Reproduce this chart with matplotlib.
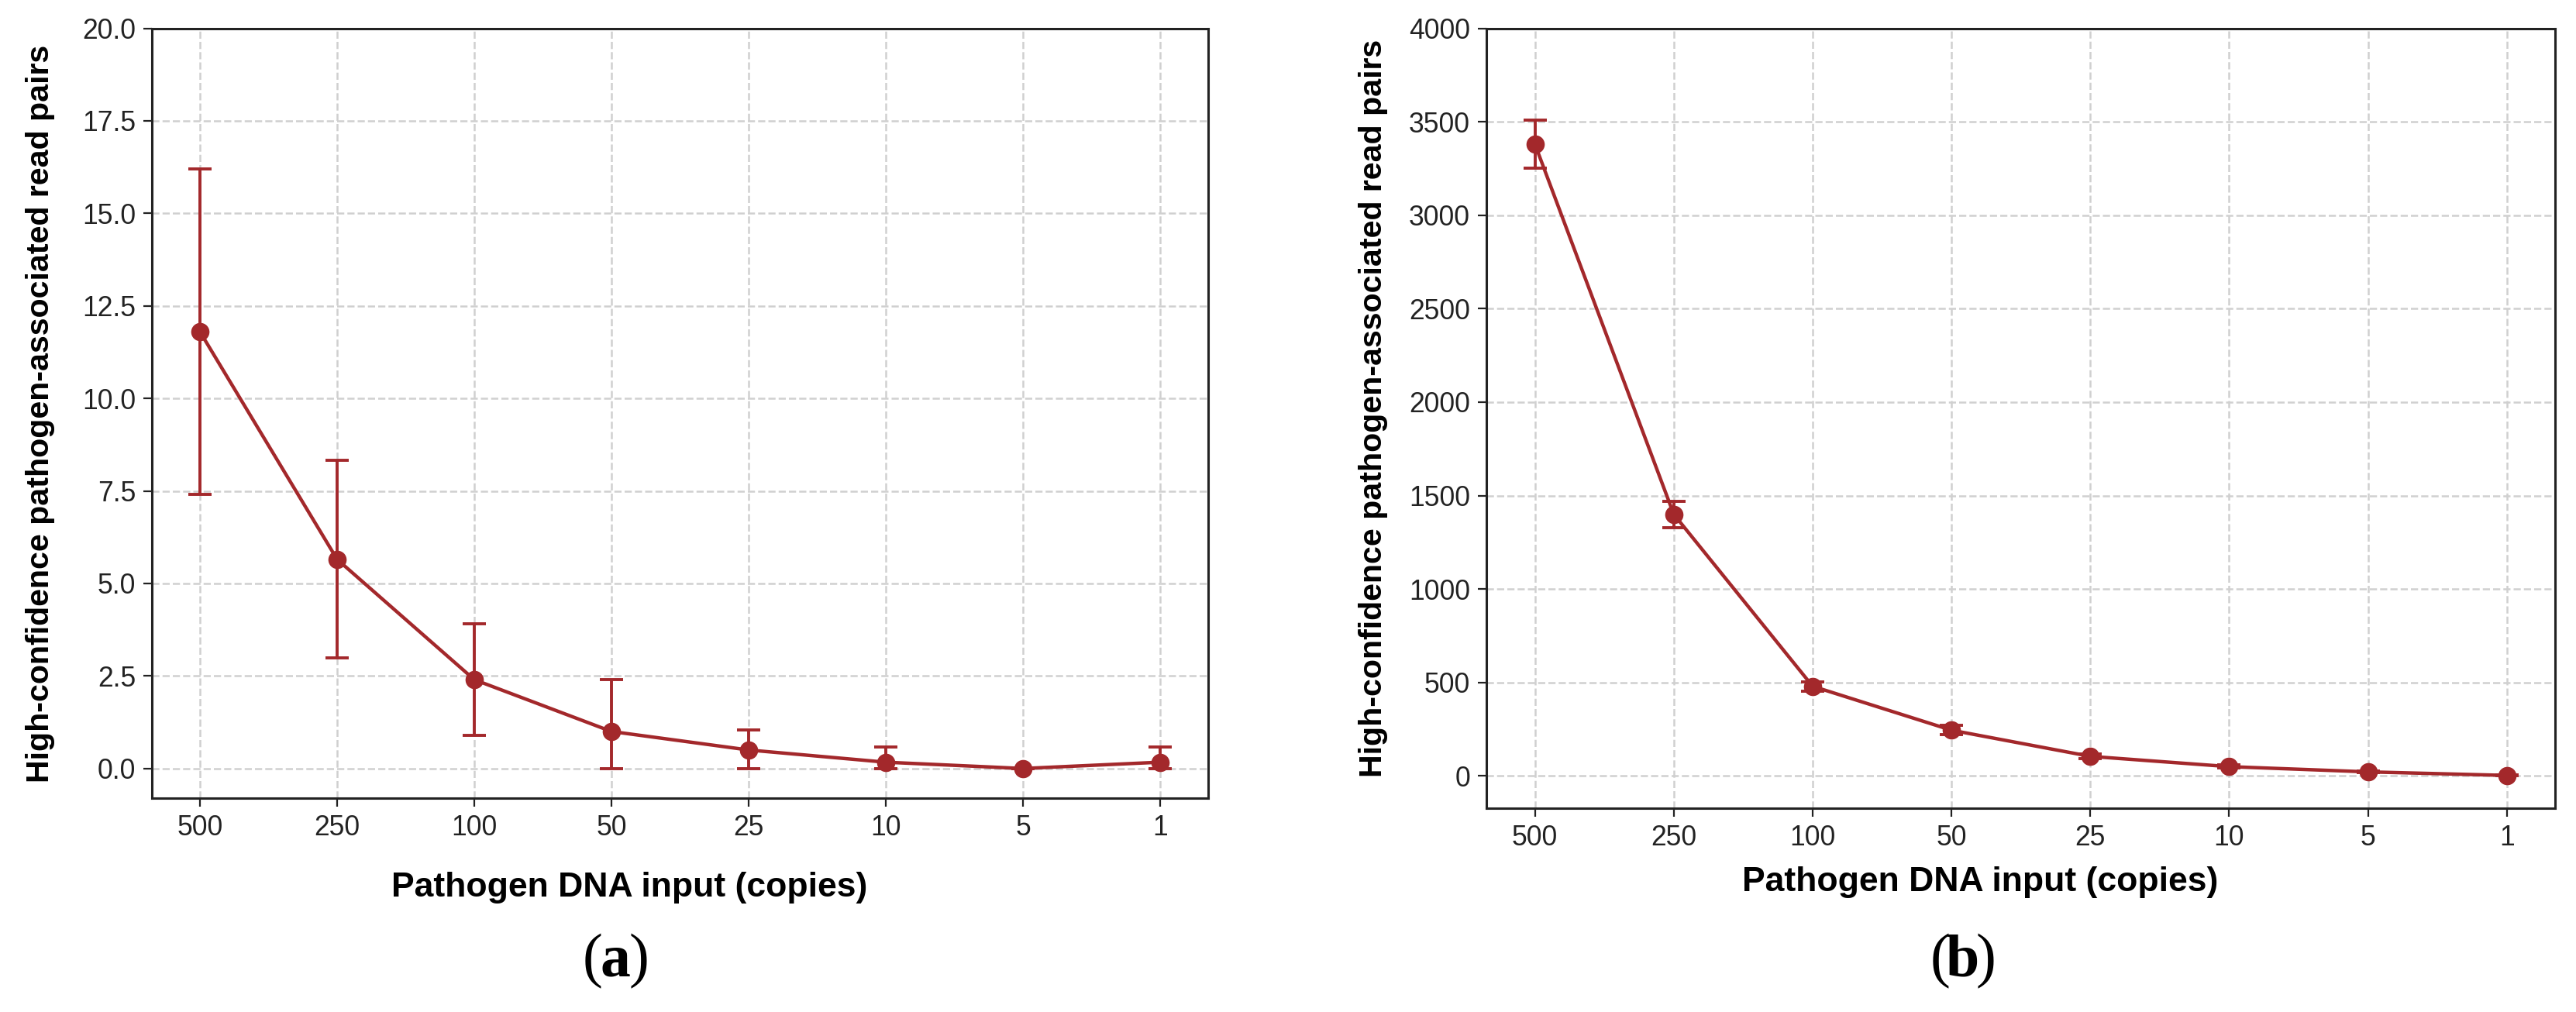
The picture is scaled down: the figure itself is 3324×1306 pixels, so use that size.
import matplotlib.pyplot as plt
import numpy as np

plt.rcParams['font.family'] = ['Liberation Sans', 'DejaVu Sans']

copies = ['500', '250', '100', '50', '25', '10', '5', '1']

# panel (a)
reads_a = [11.8, 5.65, 2.4, 1.0, 0.5, 0.17, 0.0, 0.17]
sd_a = [4.4, 2.67, 1.5, 1.4, 0.55, 0.41, 0.0, 0.41]

# panel (b)
reads_b = [3380, 1400, 480, 245, 105, 50, 22, 3]
sd_b = [130, 70, 25, 25, 12, 8, 4, 2]

red = '#A3282B'

fig = plt.figure(figsize=(16.62, 6.53), dpi=200)
ax1 = fig.add_axes([0.059, 0.211, 0.41, 0.761])
ax2 = fig.add_axes([0.577, 0.201, 0.415, 0.771])


def draw(ax, vals, sd, top):
    x = np.arange(len(vals))
    vals = np.array(vals)
    sd = np.array(sd)
    lower = np.minimum(sd, vals)  # clip the bars at zero
    ax.errorbar(x, vals, yerr=[lower, sd], color=red, ecolor=red,
                elinewidth=1.4, capsize=5.5, capthick=1.4, marker='o',
                markersize=7.5, linewidth=1.6, zorder=3)
    ax.set_ylim(top=top)
    ax.set_xticks(x)
    ax.set_xticklabels(copies)
    ax.grid(True, linestyle='--', color='#d0d0d0', linewidth=0.9)
    ax.set_axisbelow(True)
    for s in ax.spines.values():
        s.set_color('#222222')
        s.set_linewidth(1.1)
    ax.tick_params(labelsize=12.8, colors='#222222', length=4)
    ax.set_xlabel('Pathogen DNA input (copies)', fontsize=16,
                  fontweight='bold')
    ax.set_ylabel('High-confidence pathogen-associated read pairs',
                  fontsize=14.8, fontweight='bold')


draw(ax1, reads_a, sd_a, 20)
ax1.set_yticks(np.arange(0, 20.1, 2.5))
ax1.xaxis.set_label_coords(0.452, -0.095)
ax1.yaxis.set_label_coords(-0.092, 0.5)

draw(ax2, reads_b, sd_b, 4000)
ax2.set_yticks(np.arange(0, 4001, 500))
ax2.xaxis.set_label_coords(0.462, -0.074)
ax2.yaxis.set_label_coords(-0.092, 0.513)

serif = 'Liberation Serif'
for cx, letter in [(0.239, 'a'), (0.762, 'b')]:
    fig.text(cx - 0.005, 0.05, '(', fontsize=28, family=serif, ha='right', va='center')
    fig.text(cx, 0.05, letter, fontsize=28, family=serif, fontweight='bold', ha='center', va='center')
    fig.text(cx + 0.005, 0.05, ')', fontsize=28, family=serif, ha='left', va='center')

plt.savefig('out.png', dpi=200, facecolor='white')
